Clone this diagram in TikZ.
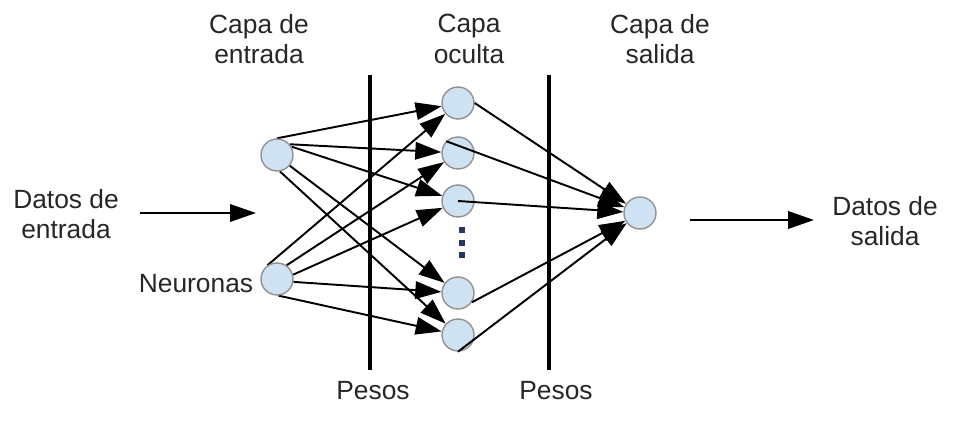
\documentclass[tikz,border=0pt]{standalone}
\usepackage{fontspec}
\setmainfont{Liberation Sans}
\usetikzlibrary{arrows.meta, backgrounds}

\definecolor{neuronfill}{RGB}{207,226,243}
\definecolor{neurondraw}{RGB}{145,145,145}
\definecolor{dotcol}{RGB}{40,55,95}

\begin{document}
\begin{tikzpicture}[
  x=0.02cm, y=-0.02cm,
  font=\fontsize{15}{17.5}\selectfont,
  neuron/.style={circle, draw=neurondraw, line width=0.8pt, fill=neuronfill,
                 minimum size=6.4mm, inner sep=0pt},
  dotsq/.style={rectangle, fill=dotcol, minimum size=1.1mm, inner sep=0pt},
  lbl/.style={align=center, text=black!85, inner sep=0pt},
  conn/.style={-{Triangle[length=5.2mm, width=3.5mm]}, line width=1.1pt},
  sepline/.style={line width=1.8pt},
]
\useasboundingbox (0,0) rectangle (961,438);

% ---- Neurons ----
\node[neuron] (i1) at (277,155) {};
\node[neuron] (i2) at (277,279) {};
\node[neuron] (h1) at (458,103) {};
\node[neuron] (h2) at (458,153) {};
\node[neuron] (h3) at (458,201) {};
\node[neuron] (h4) at (458,293) {};
\node[neuron] (h5) at (458,335) {};
\node[neuron] (o)  at (640,213) {};
\node[dotsq] (d1) at (462,230) {};
\node[dotsq] (d2) at (462,243) {};
\node[dotsq] (d3) at (462,255) {};

% ---- Weights: input -> hidden ----
\begin{scope}[on background layer]
\draw[conn] (i1.north) -- (h1);
\draw[conn] (i1.40) -- (h2);
\draw[conn] (i1.30) -- (h3);
\draw[conn] (i1.-40) -- (h4);
\draw[conn] (i1.-80) -- (h5);
\draw[conn] (i2.125) -- (h1);
\draw[conn] (i2.55) -- (h2);
\draw[conn] (i2.15) -- (h3);
\draw[conn] (i2.-10) -- (h4);
\draw[conn] (i2.-85) -- (h5);
\end{scope}

% ---- Weights: hidden -> output ----
\draw[conn] (h1.east) -- (o);
\draw[conn] (h2.135) -- (o);
\draw[conn] (h3.center) -- (o);
\draw[conn] (h4.-34) -- (o);
\draw[conn] (h5.south) -- (o);

% ---- Layer separators ----
\coordinate (s1t) at (370,75);
\coordinate (s1b) at (370,370);
\coordinate (s2t) at (549,75);
\coordinate (s2b) at (549,370);
\draw[sepline] (s1t) -- (s1b);
\draw[sepline] (s2t) -- (s2b);

% ---- Data in / out ----
\coordinate (inA) at (140,213);
\coordinate (inB) at (256,213);
\coordinate (outA) at (690,220);
\coordinate (outB) at (814,220);
\draw[conn] (inA) -- (inB);
\draw[conn] (outA) -- (outB);

% ---- Labels ----
\node[lbl] (capaIn)  at (259,39) {Capa de\\entrada};
\node[lbl] (capaHid) at (469,39) {Capa\\oculta};
\node[lbl] (capaOut) at (660,39) {Capa de\\salida};
\node[lbl] (datosIn)  at (66,214)  {Datos de\\entrada};
\node[lbl] (datosOut) at (885,221) {Datos de\\salida};
\node[lbl, anchor=base] (neur)   at (196,293) {Neuronas};
\node[lbl, anchor=base] (pesos1) at (373,400) {Pesos};
\node[lbl, anchor=base] (pesos2) at (556,400) {Pesos};

\end{tikzpicture}
\end{document}
